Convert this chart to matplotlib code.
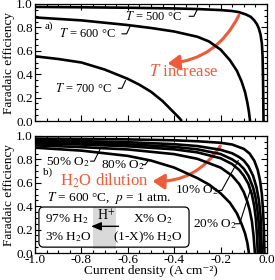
import matplotlib
matplotlib.use("Agg")
import matplotlib.pyplot as plt
from matplotlib.patches import FancyArrowPatch, FancyBboxPatch
from matplotlib.ticker import MultipleLocator
import numpy as np

plt.rcParams['font.family'] = ['Liberation Serif', 'DejaVu Serif']
plt.rcParams['mathtext.fontset'] = 'stix'
plt.rcParams['axes.unicode_minus'] = False

# ---------------- data ----------------
# Panel a) : temperature series
x_500 = [-1.0, -0.8, -0.6, -0.4, -0.3, -0.2, -0.15, -0.12, -0.09, -0.07, -0.055,
         -0.044, -0.035, -0.028, -0.022, -0.019, -0.017, -0.015]
y_500 = [0.975, 0.972, 0.968, 0.962, 0.957, 0.948, 0.94, 0.93, 0.91, 0.89, 0.86,
         0.83, 0.79, 0.74, 0.66, 0.55, 0.35, 0.0]
x_600 = [-1.0, -0.8, -0.6, -0.5, -0.4, -0.3, -0.25, -0.2, -0.16, -0.13, -0.11,
         -0.095, -0.085, -0.078, -0.073]
y_600 = [0.885, 0.86, 0.82, 0.795, 0.765, 0.72, 0.68, 0.61, 0.52, 0.43, 0.34,
         0.25, 0.16, 0.08, 0.0]
x_700 = [-1.0, -0.9, -0.8, -0.7, -0.6, -0.55, -0.5, -0.45, -0.42, -0.4, -0.38, -0.367]
y_700 = [0.553, 0.53, 0.50, 0.44, 0.36, 0.31, 0.25, 0.17, 0.11, 0.07, 0.03, 0.0]

# Panel b) : O2 / H2O dilution series (top curve first)
x_b1 = [-1.0, -0.8, -0.6, -0.4, -0.3, -0.2, -0.15, -0.1, -0.075, -0.055, -0.04,
        -0.03, -0.022, -0.017, -0.013, -0.011]
y_b1 = [0.978, 0.975, 0.971, 0.963, 0.955, 0.942, 0.927, 0.89, 0.85, 0.79, 0.71,
        0.62, 0.5, 0.36, 0.18, 0.0]
x_b2 = [-1.0, -0.8, -0.6, -0.4, -0.3, -0.2, -0.15, -0.12, -0.1, -0.08, -0.06,
        -0.045, -0.035, -0.028, -0.025, -0.022]
y_b2 = [0.962, 0.956, 0.947, 0.93, 0.914, 0.882, 0.852, 0.82, 0.79, 0.74, 0.66,
        0.56, 0.45, 0.32, 0.18, 0.0]
x_b3 = [-1.0, -0.8, -0.6, -0.4, -0.3, -0.2, -0.15, -0.12, -0.1, -0.08, -0.06,
        -0.05, -0.042, -0.036, -0.032, -0.03]
y_b3 = [0.95, 0.941, 0.929, 0.907, 0.886, 0.846, 0.80, 0.76, 0.72, 0.66, 0.56,
        0.48, 0.38, 0.26, 0.13, 0.0]
x_b4 = [-1.0, -0.8, -0.6, -0.4, -0.3, -0.2, -0.15, -0.12, -0.1, -0.08, -0.065,
        -0.055, -0.048, -0.043, -0.04]
y_b4 = [0.937, 0.927, 0.912, 0.886, 0.86, 0.81, 0.76, 0.71, 0.66, 0.59, 0.50,
        0.40, 0.29, 0.15, 0.0]
x_b5 = [-1.0, -0.8, -0.6, -0.4, -0.3, -0.2, -0.15, -0.12, -0.1, -0.085, -0.075,
        -0.065, -0.058, -0.052]
y_b5 = [0.92, 0.905, 0.885, 0.845, 0.805, 0.73, 0.66, 0.59, 0.52, 0.44, 0.37,
        0.27, 0.15, 0.0]
x_b6 = [-1.0, -0.8, -0.6, -0.5, -0.4, -0.3, -0.25, -0.2, -0.16, -0.13, -0.11,
        -0.095, -0.085, -0.078]
y_b6 = [0.9, 0.875, 0.83, 0.79, 0.73, 0.64, 0.585, 0.51, 0.43, 0.34, 0.25,
        0.17, 0.09, 0.0]

temp_labels = ['$T$ = 500 °C', '$T$ = 600 °C', '$T$ = 700 °C']
o2_labels = ['50% O$_2$', '80% O$_2$', '10% O$_2$', '20% O$_2$']
yticks = [0.0, 0.2, 0.4, 0.6, 0.8, 1.0]
xticks = [-1.0, -0.8, -0.6, -0.4, -0.2, 0.0]

RED = '#EE5B3B'
LW = 1.9
FS = 9.5

fig = plt.figure(figsize=(2.75, 2.8), dpi=100)
axA = fig.add_axes([35/275, 1-121/280, 232/275, 117/280])
axB = fig.add_axes([35/275, 1-253/280, 232/275, 117/280])

for ax in (axA, axB):
    ax.set_xlim(-1.0, 0.0)
    ax.set_ylim(0.0, 1.0)
    ax.set_xticks(xticks)
    ax.set_yticks(yticks)
    ax.xaxis.set_minor_locator(MultipleLocator(0.05))
    ax.yaxis.set_minor_locator(MultipleLocator(0.05))
    ax.tick_params(which='both', direction='in', top=True, right=True,
                   labelsize=FS, width=0.8)
    ax.tick_params(axis='x', labelsize=9.5, pad=0.5)
    ax.tick_params(axis='y', pad=1.5)
    ax.tick_params(which='major', length=4)
    ax.tick_params(which='minor', length=2.2)
    ax.set_yticklabels([f'{v:.1f}' for v in yticks])
    ax.set_ylabel('Faradaic efficiency', fontsize=FS, labelpad=1)
    for s in ax.spines.values():
        s.set_linewidth(0.9)

axA.set_xticklabels([])
axB.set_xticklabels([f'{v:.1f}' for v in xticks])
axB.set_xlabel('Current density (A cm\u207b\u00b2)', fontsize=9.5, labelpad=-0.5)

# ---- panel a
for xs, ys in ((x_500, y_500), (x_600, y_600), (x_700, y_700)):
    axA.plot(xs, ys, color='black', lw=LW, solid_capstyle='butt')

lead_kw = dict(color='black', lw=0.8)
axA.text(-0.489, 0.895, temp_labels[0], fontsize=9, ha='center', va='center')
axA.plot([-0.335, -0.315, -0.3], [0.895, 0.895, 0.955], **lead_kw)
axA.text(-0.775, 0.745, temp_labels[1], fontsize=9, ha='center', va='center')
axA.plot([-0.625, -0.605, -0.59], [0.745, 0.745, 0.81], **lead_kw)
axA.text(-0.79, 0.28, temp_labels[2], fontsize=9, ha='center', va='center')
axA.plot([-0.64, -0.625, -0.61], [0.28, 0.28, 0.345], **lead_kw)
axA.text(-0.94, 0.81, 'a)', fontsize=8, ha='center', va='center')

axA.add_patch(FancyArrowPatch((-0.116, 0.925), (-0.44, 0.49),
                              connectionstyle='arc3,rad=-0.3',
                              arrowstyle='-|>,head_length=0.7,head_width=0.45',
                              mutation_scale=10, color=RED, lw=2.2))
axA.text(-0.36, 0.415, '$T$ increase', fontsize=12, color=RED,
         ha='center', va='center')

# ---- panel b
for xs, ys in ((x_b1, y_b1), (x_b2, y_b2), (x_b3, y_b3),
               (x_b4, y_b4), (x_b5, y_b5), (x_b6, y_b6)):
    axB.plot(xs, ys, color='black', lw=LW, solid_capstyle='butt')

axB.text(-0.858, 0.78, o2_labels[0], fontsize=FS, ha='center', va='center')
axB.plot([-0.76, -0.745, -0.72], [0.785, 0.785, 0.885], **lead_kw)
axB.text(-0.62, 0.75, o2_labels[1], fontsize=FS, ha='center', va='center')
axB.plot([-0.535, -0.525, -0.51], [0.755, 0.755, 0.795], **lead_kw)
axB.text(-0.30, 0.535, o2_labels[2], fontsize=FS, ha='center', va='center')
axB.plot([-0.21, -0.195, -0.124], [0.535, 0.535, 0.79], **lead_kw)
axB.text(-0.225, 0.25, o2_labels[3], fontsize=FS, ha='center', va='center')
axB.plot([-0.135, -0.118, -0.073], [0.25, 0.25, 0.53], **lead_kw)
axB.text(-0.945, 0.69, 'b)', fontsize=8, ha='center', va='center')

axB.add_patch(FancyArrowPatch((-0.195, 0.935), (-0.505, 0.615),
                              connectionstyle='arc3,rad=-0.3',
                              arrowstyle='-|>,head_length=0.7,head_width=0.45',
                              mutation_scale=10, color=RED, lw=2.2))
axB.text(-0.70, 0.615, 'H$_2$O dilution', fontsize=12, color=RED,
         ha='center', va='center')

axB.text(-0.68, 0.47, '$T$ = 600 °C,  $p$ = 1 atm.', fontsize=FS,
         ha='center', va='center')

# cell sketch
axB.axvspan(-0.75, -0.65, ymin=0.035, ymax=0.395, color='#d9d9d9', lw=0, zorder=1)
box = FancyBboxPatch((-0.983, 0.05), 0.647, 0.343,
                     boxstyle='round,pad=0,rounding_size=0.02',
                     mutation_aspect=232/117, fc='none', ec='black', lw=0.9, zorder=3)
axB.add_patch(box)
axB.text(-0.957, 0.29, '97% H$_2$', fontsize=FS, ha='left', va='center', zorder=4)
axB.text(-0.957, 0.135, '3% H$_2$O', fontsize=FS, ha='left', va='center', zorder=4)
axB.text(-0.695, 0.315, 'H$^{+}$', fontsize=10, ha='center', va='center', zorder=4)
axB.annotate('', xy=(-0.758, 0.228), xytext=(-0.64, 0.228),
             arrowprops=dict(arrowstyle='-|>,head_length=0.6,head_width=0.25',
                             color='black', lw=1.0, shrinkA=0, shrinkB=0), zorder=4)
axB.text(-0.49, 0.29, 'X% O$_2$', fontsize=FS, ha='center', va='center', zorder=4)
axB.text(-0.362, 0.135, '(1-X)% H$_2$O', fontsize=FS, ha='right', va='center', zorder=4)

fig.savefig('out.png', dpi=100)
